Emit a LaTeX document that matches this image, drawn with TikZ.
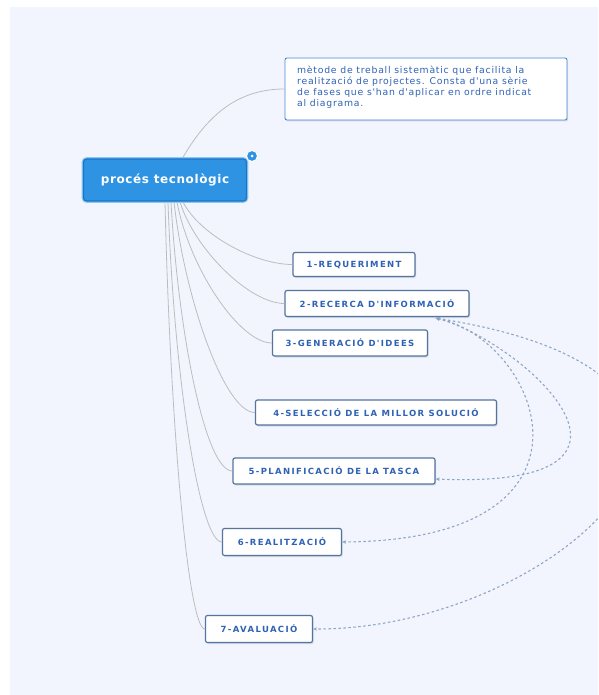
\documentclass[tikz,border=0pt]{standalone}
\usepackage{fontspec}
\setmainfont{DejaVu Sans}
\newfontfamily\boxfont[LetterSpace=16]{DejaVu Sans}
\newfontfamily\descfont[LetterSpace=8]{DejaVu Sans}
\newfontfamily\mainfont[LetterSpace=5]{DejaVu Sans}
\usetikzlibrary{shadows,arrows.meta}
\definecolor{panel}{HTML}{F2F5FD}
\definecolor{boxtext}{HTML}{2F62B5}
\definecolor{boxline}{HTML}{55749E}
\definecolor{mainfill}{HTML}{2E93E3}
\definecolor{mainline}{HTML}{1C74C6}
\definecolor{mainring}{HTML}{8CC8F2}
\definecolor{descline}{HTML}{4A8AD4}
\definecolor{conn}{HTML}{BDBDBD}
\definecolor{rel}{HTML}{8EA6C6}
\tikzset{
  stepbox/.style={draw=boxline, line width=1.2pt, fill=white, rounded corners=2pt,
    text=boxtext, font=\boxfont\bfseries\fontsize{8.5}{9}\selectfont,
    inner sep=0pt, drop shadow={shadow xshift=1.2pt, shadow yshift=-1.5pt, fill=boxline!45}},
  mainbox/.style={fill=mainfill, draw=mainline, line width=1.2pt, rounded corners=3pt,
    preaction={draw=mainring, line width=3.6pt},
    text=white, font=\mainfont\bfseries\fontsize{12}{14}\selectfont, inner sep=0pt},
  descbox/.style={draw=descline, line width=0.9pt, fill=white, rounded corners=2pt,
    inner sep=0pt, drop shadow={shadow xshift=1.2pt, shadow yshift=-1.5pt, fill=boxline!40}},
  desctextstyle/.style={text=boxtext, font=\descfont\fontsize{9.3}{11}\selectfont,
    align=left, anchor=north west, inner sep=0pt},
  branch/.style={draw=conn, line width=0.8pt},
  relline/.style={draw=rel, line width=1.1pt, dash pattern=on 2.5pt off 2.5pt,
    {Stealth[length=4pt,width=3.5pt]}-{Stealth[length=4pt,width=3.5pt]}},
}
\begin{document}
\begin{tikzpicture}[x=1pt,y=-1pt]
\useasboundingbox (0,0) rectangle (598,695);
\clip (0,0) rectangle (598,695);
\fill[panel] (10,7) rectangle (598,695);

% branch start coordinates
\coordinate (c0) at (182,159);
\coordinate (s1) at (183,202);
\coordinate (s2) at (180,202);
\coordinate (s3) at (177,202);
\coordinate (s4) at (174,202);
\coordinate (s5) at (171,202);
\coordinate (s6) at (168,202);
\coordinate (s7) at (165,202);

% nodes
\node[descbox, minimum width=282, minimum height=62] (desc) at (426,89) {};
\node[desctextstyle] (desctext) at (297,66)
  {mètode de treball sistemàtic que facilita la\\realització de projectes. Consta d'una sèrie\\de fases que s'han d'aplicar en ordre indicat\\al diagrama.};

\node[stepbox, minimum width=122, minimum height=24] (r1) at (354,264.5) {1-REQUERIMENT};
\node[stepbox, minimum width=184, minimum height=26] (r2) at (377,303.5) {2-RECERCA D'INFORMACIÓ};
\node[stepbox, minimum width=155, minimum height=26] (r3) at (350,343) {3-GENERACIÓ D'IDEES};
\node[stepbox, minimum width=241, minimum height=25] (r4) at (376,412.5) {4-SELECCIÓ DE LA MILLOR SOLUCIÓ};
\node[stepbox, minimum width=202, minimum height=26] (r5) at (334,471) {5-PLANIFICACIÓ DE LA TASCA};
\node[stepbox, minimum width=119, minimum height=27] (r6) at (282,542) {6-REALITZACIÓ};
\node[stepbox, minimum width=107, minimum height=27] (r7) at (259,629) {7-AVALUACIÓ};

% branches
\draw[branch] (c0) to[out=60,in=180] (desc.west);
\draw[branch] (s1) .. controls (200,235) and (255,264.5) .. (r1.west);
\draw[branch] (s2) .. controls (195,250) and (250,303.5) .. (r2.west);
\draw[branch] (s3) .. controls (190,270) and (240,343) .. (r3.west);
\draw[branch] (s4) .. controls (185,300) and (225,412.5) .. (r4.west);
\draw[branch] (s5) .. controls (178,330) and (205,471) .. (r5.west);
\draw[branch] (s6) .. controls (174,380) and (200,542) .. (r6.west);
\draw[branch] (s7) .. controls (170,420) and (188,629) .. (r7.west);

\node[mainbox, minimum width=163, minimum height=42] (c) at (165,180) {procés tecnològic};
\node[circle, fill=mainfill, draw=white, line width=1pt, minimum size=11pt, inner sep=0pt] (plus) at (252,156) {};
\node[circle, fill=white, minimum size=3pt, inner sep=0pt] (plusdot) at (plus) {};

% relationship lines
\coordinate (d0) at ([xshift=-34pt,yshift=-1pt]r2.south east);
\coordinate (e5) at ([yshift=-8pt]r5.east);
\coordinate (e6) at (r6.east);
\coordinate (e7) at (r7.east);
\draw[relline] (d0) .. controls (520,340) and (690,490) .. (e5);
\draw[relline] (d0) .. controls (540,340) and (620,540) .. (e6);
\draw[relline] (d0) .. controls (830,380) and (560,630) .. (e7);
\end{tikzpicture}
\end{document}
